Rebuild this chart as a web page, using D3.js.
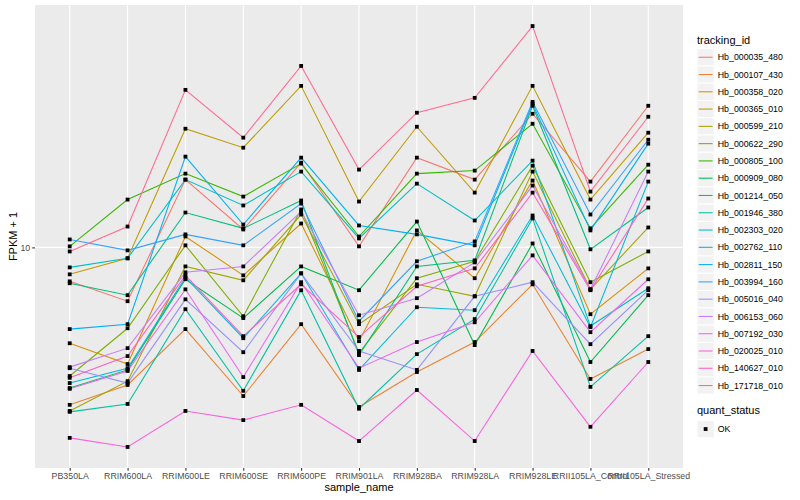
<!DOCTYPE html>
<html>
<head>
<meta charset="utf-8">
<script src="https://cdn.jsdelivr.net/npm/d3@7"></script>
<style>
  body { margin: 0; background: #fff; }
  text { font-family: "Liberation Sans", Arial, Helvetica, sans-serif; }
</style>
</head>
<body>
<svg id="chart" width="800" height="500"></svg>
<script>
const samples = ["PB350LA", "RRIM600LA", "RRIM600LE", "RRIM600SE", "RRIM600PE", "RRIM901LA",
  "RRIM928BA", "RRIM928LA", "RRIM928LE", "RRII105LA_Control", "RRII105LA_Stressed"];

const trackingIds = ["Hb_000035_480", "Hb_000107_430", "Hb_000358_020", "Hb_000365_010", "Hb_000599_210",
  "Hb_000622_290", "Hb_000805_100", "Hb_000909_080", "Hb_001214_050", "Hb_001946_380", "Hb_002303_020",
  "Hb_002762_110", "Hb_002811_150", "Hb_003994_160", "Hb_005016_040", "Hb_006153_060", "Hb_007192_030",
  "Hb_020025_010", "Hb_140627_010", "Hb_171718_010"];

const colors = ["#F8766D", "#EA8331", "#D89000", "#C09B00", "#A3A500", "#7CAE00", "#39B600", "#00BB4E",
  "#00BF7D", "#00C1A3", "#00BFC4", "#00BAE0", "#00B0F6", "#35A2FF", "#9590FF", "#C77CFF", "#E76BF3",
  "#FA62DB", "#FF62BC", "#FF6C91"];

// FPKM + 1, one value per sample
const hb_000035_480 = [8.22, 7.33, 14.79, 11.09, 16.31, 10.06, 16.79, 14.79, 21.63, 14.62, 22.65];
const hb_000107_430 = [4.03, 4.52, 6.24, 4.24, 6.42, 3.98, 4.87, 5.79, 8.08, 4.68, 5.56];
const hb_000358_020 = [5.75, 5.10, 10.65, 8.51, 11.48, 5.82, 11.03, 8.37, 14.71, 6.80, 8.86];
const hb_000365_010 = [8.56, 9.39, 19.84, 17.78, 25.41, 13.03, 20.07, 13.72, 25.41, 13.18, 19.39];
const hb_000599_210 = [3.89, 4.62, 8.96, 8.27, 12.09, 6.42, 8.08, 7.54, 15.49, 7.85, 11.22];
const hb_000622_290 = [4.76, 6.27, 10.12, 6.72, 12.45, 5.43, 8.37, 9.23, 16.03, 8.18, 9.77];
const hb_000805_100 = [10.06, 13.18, 15.31, 13.41, 16.22, 10.65, 15.31, 15.58, 20.42, 11.16, 16.12];
const hb_000909_080 = [4.44, 4.93, 8.32, 6.65, 8.96, 7.81, 11.61, 5.69, 10.23, 5.16, 7.59];
const hb_001214_050 = [8.13, 7.59, 12.23, 11.16, 13.11, 5.37, 8.96, 9.28, 22.65, 9.89, 12.59];
const hb_001946_380 = [3.87, 4.05, 7.00, 4.37, 7.81, 3.94, 5.40, 6.61, 11.82, 4.47, 5.99];
const hb_002303_020 = [8.91, 9.39, 14.79, 12.74, 15.49, 10.53, 14.45, 11.68, 16.50, 6.35, 7.90];
const hb_002762_110 = [4.57, 4.98, 8.41, 5.92, 8.61, 4.93, 7.08, 6.96, 12.02, 6.31, 14.62];
const hb_002811_150 = [6.24, 6.42, 16.89, 11.41, 16.79, 11.35, 10.78, 10.12, 22.91, 11.03, 18.20];
const hb_003994_160 = [10.47, 9.83, 10.78, 10.12, 12.88, 6.53, 9.23, 10.35, 23.17, 12.09, 18.62];
const hb_005016_040 = [4.98, 4.57, 7.41, 5.46, 8.61, 5.50, 4.93, 7.54, 8.18, 5.72, 7.81];
const hb_006153_060 = [5.01, 5.59, 8.66, 8.96, 12.30, 6.76, 7.46, 9.17, 14.29, 7.85, 15.49];
const hb_007192_030 = [4.42, 4.90, 7.85, 4.73, 8.18, 4.98, 5.79, 6.49, 9.55, 6.13, 8.32];
const hb_020025_010 = [3.33, 3.16, 3.89, 3.69, 4.03, 3.27, 4.39, 3.27, 5.50, 3.55, 5.16];
const hb_140627_010 = [4.71, 5.34, 8.51, 5.99, 8.08, 5.96, 7.99, 8.86, 13.72, 7.81, 13.26];
const hb_171718_010 = [9.77, 11.28, 24.83, 18.84, 28.51, 15.67, 21.76, 23.71, 35.89, 13.80, 21.26];

const yTicks = [10];
const quantStatus = ["OK"];

const seriesValues = [hb_000035_480, hb_000107_430, hb_000358_020, hb_000365_010, hb_000599_210,
  hb_000622_290, hb_000805_100, hb_000909_080, hb_001214_050, hb_001946_380, hb_002303_020,
  hb_002762_110, hb_002811_150, hb_003994_160, hb_005016_040, hb_006153_060, hb_007192_030,
  hb_020025_010, hb_140627_010, hb_171718_010];

const series = trackingIds.map(function(id, i) {
  return { id: id, color: colors[i], values: seriesValues[i] };
});

const panel = { left: 35, right: 683, top: 5, bottom: 468 };

const svg = d3.select("#chart");

const x = d3.scalePoint()
  .domain(samples)
  .range([panel.left, panel.right])
  .padding(0.6);

// log scale, expanded 5% like ggplot
const ext = d3.extent(d3.merge(seriesValues)).map(Math.log10);
const pad = (ext[1] - ext[0]) * 0.05;
const y = d3.scaleLog()
  .domain([Math.pow(10, ext[0] - pad), Math.pow(10, ext[1] + pad)])
  .range([panel.bottom, panel.top]);

svg.append("rect")
  .attr("x", panel.left)
  .attr("y", panel.top)
  .attr("width", panel.right - panel.left)
  .attr("height", panel.bottom - panel.top)
  .attr("fill", "#EBEBEB");

// grid
svg.append("g")
  .selectAll("line")
  .data(samples)
  .enter()
  .append("line")
  .attr("x1", d => x(d))
  .attr("x2", d => x(d))
  .attr("y1", panel.top)
  .attr("y2", panel.bottom)
  .attr("stroke", "#fff")
  .attr("stroke-width", 1.07);

svg.append("g")
  .selectAll("line")
  .data(yTicks)
  .enter()
  .append("line")
  .attr("x1", panel.left)
  .attr("x2", panel.right)
  .attr("y1", d => y(d))
  .attr("y2", d => y(d))
  .attr("stroke", "#fff")
  .attr("stroke-width", 1.07);

const valueline = d3.line()
  .x(function(d, j) { return x(samples[j]); })
  .y(function(d) { return y(d); });

series.forEach(function(s) {
  svg.append("path")
    .datum(s.values)
    .attr("fill", "none")
    .attr("stroke", s.color)
    .attr("stroke-width", 1.07)
    .attr("d", valueline);
});

series.forEach(function(s) {
  svg.append("g")
    .selectAll("rect")
    .data(s.values)
    .enter()
    .append("rect")
    .attr("x", (d, j) => x(samples[j]) - 1.9)
    .attr("y", d => y(d) - 1.9)
    .attr("width", 3.8)
    .attr("height", 3.8)
    .attr("fill", "#000");
});

// axes
const xAxis = svg.append("g")
  .attr("transform", "translate(0," + panel.bottom + ")")
  .call(d3.axisBottom(x).tickSizeInner(2.75).tickSizeOuter(0).tickPadding(2));
xAxis.select(".domain").remove();
xAxis.selectAll("line").attr("stroke", "#333333").attr("stroke-width", 1.07);
xAxis.selectAll("text")
  .attr("fill", "#4D4D4D")
  .style("font-size", "8.8px")
  .style("font-family", "'Liberation Sans', Arial, sans-serif");

const yAxis = svg.append("g")
  .attr("transform", "translate(" + panel.left + ",0)")
  .call(d3.axisLeft(y).tickValues(yTicks).tickFormat(d3.format("d")).tickSizeInner(2.75).tickSizeOuter(0).tickPadding(2));
yAxis.select(".domain").remove();
yAxis.selectAll("line").attr("stroke", "#333333").attr("stroke-width", 1.07);
yAxis.selectAll("text")
  .attr("fill", "#4D4D4D")
  .style("font-size", "8.8px")
  .style("font-family", "'Liberation Sans', Arial, sans-serif");

svg.append("text")
  .attr("x", (panel.left + panel.right) / 2)
  .attr("y", 491)
  .attr("text-anchor", "middle")
  .style("font-size", "11px")
  .text("sample_name");

svg.append("text")
  .attr("transform", "translate(16.5," + (panel.top + panel.bottom) / 2 + ") rotate(-90)")
  .attr("text-anchor", "middle")
  .style("font-size", "11px")
  .text("FPKM + 1");

// legend
const legend = svg.append("g").attr("transform", "translate(697,0)");
const keySize = 17.28;
const keyTop = 48.6;

legend.append("text")
  .attr("x", 0)
  .attr("y", 44)
  .style("font-size", "11px")
  .text("tracking_id");

const keys = legend.selectAll("g.key")
  .data(series)
  .enter()
  .append("g")
  .attr("class", "key")
  .attr("transform", (d, i) => "translate(0," + (keyTop + i * keySize) + ")");

keys.append("rect")
  .attr("width", keySize)
  .attr("height", keySize)
  .attr("fill", "#F2F2F2")
  .attr("stroke", "#fff")
  .attr("stroke-width", 1);

keys.append("line")
  .attr("x1", 1.7)
  .attr("x2", keySize - 1.7)
  .attr("y1", keySize / 2)
  .attr("y2", keySize / 2)
  .attr("stroke", d => d.color)
  .attr("stroke-width", 1.07);

keys.append("text")
  .attr("x", keySize + 3.5)
  .attr("y", keySize / 2 + 3.1)
  .style("font-size", "8.8px")
  .text(d => d.id);

legend.append("text")
  .attr("x", 0)
  .attr("y", 414)
  .style("font-size", "11px")
  .text("quant_status");

const qKeys = legend.selectAll("g.qkey")
  .data(quantStatus)
  .enter()
  .append("g")
  .attr("class", "qkey")
  .attr("transform", (d, i) => "translate(0," + (420.4 + i * keySize) + ")");

qKeys.append("rect")
  .attr("width", keySize)
  .attr("height", keySize)
  .attr("fill", "#F2F2F2")
  .attr("stroke", "#fff")
  .attr("stroke-width", 1);

qKeys.append("rect")
  .attr("x", keySize / 2 - 1.9)
  .attr("y", keySize / 2 - 1.9)
  .attr("width", 3.8)
  .attr("height", 3.8)
  .attr("fill", "#000");

qKeys.append("text")
  .attr("x", keySize + 3.5)
  .attr("y", keySize / 2 + 3.1)
  .style("font-size", "8.8px")
  .text(d => d);
</script>
</body>
</html>
